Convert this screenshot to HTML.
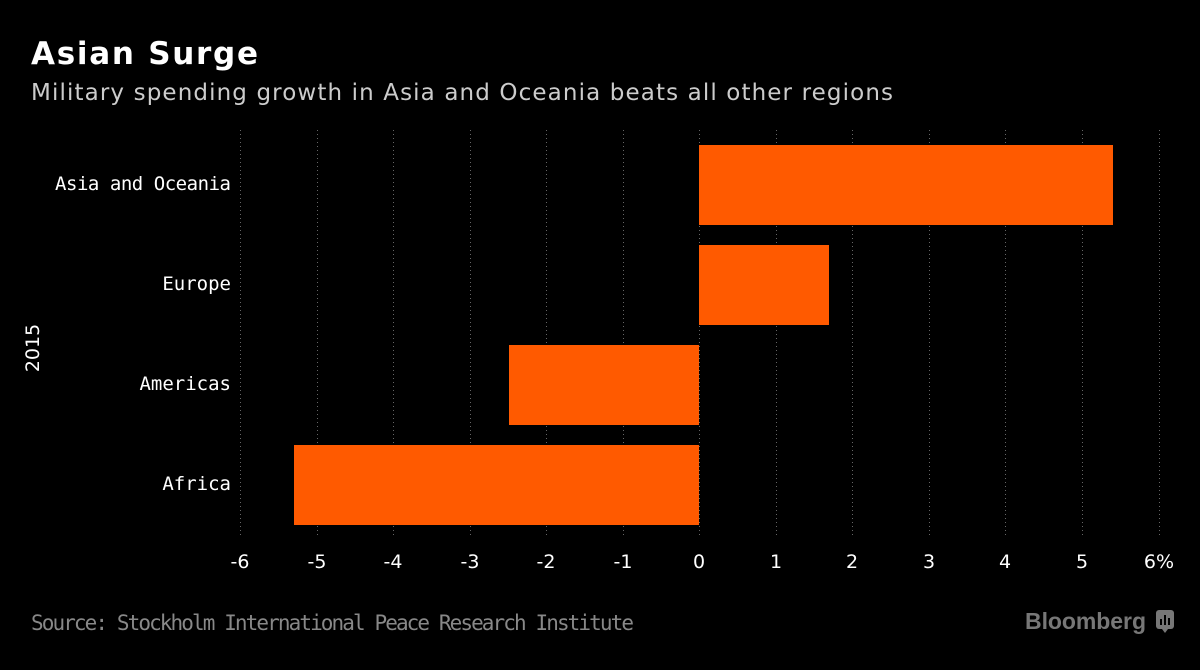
<!DOCTYPE html>
<html><head><style>
body{margin:0;width:1200px;height:666px;background:#000;overflow:hidden;font-family:"DejaVu Sans",sans-serif;}
</style></head><body>
<svg width="1200" height="666" xmlns="http://www.w3.org/2000/svg">
<text x="31" y="64" fill="#fff" font-size="31" font-weight="bold" font-family="DejaVu Sans" textLength="227">Asian Surge</text>
<text x="31" y="100" fill="#ccc" font-size="23" font-family="DejaVu Sans" textLength="862">Military spending growth in Asia and Oceania beats all other regions</text>
<g stroke="#666" stroke-width="1" stroke-dasharray="1,3">
<line x1="240.5" y1="130" x2="240.5" y2="538"/><line x1="317.5" y1="130" x2="317.5" y2="538"/>
<line x1="393.5" y1="130" x2="393.5" y2="538"/><line x1="470.5" y1="130" x2="470.5" y2="538"/>
<line x1="546.5" y1="130" x2="546.5" y2="538"/><line x1="623.5" y1="130" x2="623.5" y2="538"/>
<line x1="699.5" y1="130" x2="699.5" y2="538"/><line x1="776.5" y1="130" x2="776.5" y2="538"/>
<line x1="852.5" y1="130" x2="852.5" y2="538"/><line x1="929.5" y1="130" x2="929.5" y2="538"/>
<line x1="1005.5" y1="130" x2="1005.5" y2="538"/><line x1="1082.5" y1="130" x2="1082.5" y2="538"/>
<line x1="1159.5" y1="130" x2="1159.5" y2="538"/>
</g>
<g fill="#ff5a00">
<rect x="699" y="145" width="414" height="80"/>
<rect x="699" y="245" width="130" height="80"/>
<rect x="509" y="345" width="190" height="80"/>
<rect x="294" y="445" width="405" height="80"/>
</g>
<g fill="#fff" font-size="19" font-family="DejaVu Sans Mono" text-anchor="end">
<text x="231" y="190" textLength="176">Asia and Oceania</text>
<text x="231" y="290">Europe</text>
<text x="231" y="390">Americas</text>
<text x="231" y="490">Africa</text>
</g>
<text transform="translate(39,348) rotate(-90)" fill="#fff" font-size="19" text-anchor="middle" font-family="DejaVu Sans">2015</text>
<g fill="#fff" font-size="19" text-anchor="middle" font-family="DejaVu Sans">
<text x="240" y="568">-6</text><text x="317" y="568">-5</text><text x="393" y="568">-4</text>
<text x="470" y="568">-3</text><text x="546" y="568">-2</text><text x="623" y="568">-1</text>
<text x="699" y="568">0</text><text x="776" y="568">1</text><text x="852" y="568">2</text>
<text x="929" y="568">3</text><text x="1005" y="568">4</text><text x="1082" y="568">5</text>
<text x="1159" y="568">6%</text>
</g>
<text x="31" y="630" fill="#888" font-size="21" font-family="DejaVu Sans Mono" textLength="603">Source: Stockholm International Peace Research Institute</text>
<text x="1025" y="629" fill="#777" font-size="23" font-weight="bold" font-family="Liberation Sans" textLength="121">Bloomberg</text>
<rect x="1156" y="610" width="18" height="19" rx="3" fill="#777"/>
<g fill="#000"><rect x="1160" y="619" width="2" height="6"/><rect x="1164" y="615" width="2" height="10"/><rect x="1168" y="618" width="2" height="7"/></g>
<polygon points="1162,629 1168,629 1165,633" fill="#777"/>
</svg>
</body></html>
